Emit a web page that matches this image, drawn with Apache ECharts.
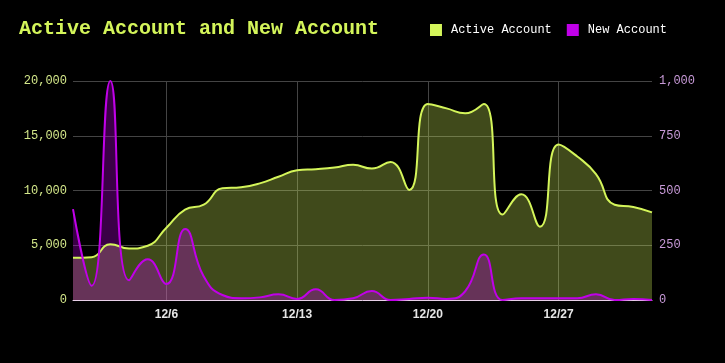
<!DOCTYPE html>
<html><head><meta charset="utf-8">
<script src="https://cdn.jsdelivr.net/npm/echarts@6/dist/echarts.min.js"></script>
<style>html,body{margin:0;padding:0;background:#000;}#c{width:725px;height:363px;}</style>
</head><body><div id="c"></div>
<script>
const categories = ['12/1','12/2','12/3','12/4','12/5','12/6','12/7','12/8','12/9','12/10','12/11','12/12','12/13','12/14','12/15','12/16','12/17','12/18','12/19','12/20','12/21','12/22','12/23','12/24','12/25','12/26','12/27','12/28','12/29','12/30','12/31','1/1'];
const activeAccount = [3850,3900,5100,4700,4950,6600,8250,8700,10200,10300,10650,11250,11850,11950,12100,12350,12000,12600,10050,17900,17500,17050,17900,7800,9650,6700,14200,13100,11500,8700,8500,8000];
const newAccount = [415,65,1000,90,186,73,324,107,23,8,12,26,5,49,0,8,41,0,5,10,5,40,208,0,8,8,8,8,26,0,5,0];
const leftTicks = [0,5000,10000,15000,20000];
const rightTicks = [0,250,500,750,1000];

const mono = '"Liberation Mono", "Courier New", monospace';
const chart = echarts.init(document.getElementById('c'));
chart.setOption({
  backgroundColor: '#000',
  animation: false,
  title: {
    text: 'Active Account and New Account',
    left: 14, top: 14,
    textStyle: {color: '#d4f55a', fontFamily: mono, fontSize: 20, fontWeight: 'bold'}
  },
  legend: {
    right: 53, top: 19,
    itemWidth: 12, itemHeight: 12, itemGap: 15,
    icon: 'rect',
    textStyle: {color: '#fff', fontFamily: mono, fontSize: 12, padding: [0,0,0,4]},
    data: ['Active Account','New Account']
  },
  grid: {left: 73, right: 73, top: 81, bottom: 63},
  xAxis: {
    type: 'category', data: categories, boundaryGap: false,
    axisLine: {lineStyle: {color: '#e8d0e8', width: 1}},
    axisTick: {show: false},
    axisLabel: {color: '#e6e6e6', fontSize: 12, fontWeight: 'bold', margin: 9, fontFamily: 'sans-serif',
      interval: (i) => i % 7 === 5},
    splitLine: {show: true, interval: (i) => i % 7 === 5, lineStyle: {color: '#444', width: 1}}
  },
  yAxis: [
    {type: 'value', min: leftTicks[0], max: leftTicks[leftTicks.length-1], interval: 5000,
      axisLine: {show: false}, axisTick: {show: false},
      axisLabel: {color: '#d4e88a', fontFamily: mono, fontSize: 12, margin: 6,
        formatter: v => v.toLocaleString('en-US')},
      splitLine: {lineStyle: {color: '#444', width: 1}}},
    {type: 'value', min: rightTicks[0], max: rightTicks[rightTicks.length-1], interval: 250, position: 'right',
      axisLine: {show: false}, axisTick: {show: false},
      axisLabel: {color: '#c89ad8', fontFamily: mono, fontSize: 12, margin: 7,
        formatter: v => v.toLocaleString('en-US')},
      splitLine: {show: false}}
  ],
  series: [
    {name: 'Active Account', type: 'line', data: activeAccount, yAxisIndex: 0, smooth: true, symbol: 'none',
      itemStyle: {color: '#d4f55a'}, lineStyle: {color: '#d4f55a', width: 2},
      areaStyle: {color: '#d4f55a', opacity: 0.3}},
    {name: 'New Account', type: 'line', data: newAccount, yAxisIndex: 1, smooth: true, symbol: 'none',
      itemStyle: {color: '#c000e8'}, lineStyle: {color: '#c000e8', width: 2},
      areaStyle: {color: '#c000e8', opacity: 0.3}}
  ]
});
</script></body></html>
